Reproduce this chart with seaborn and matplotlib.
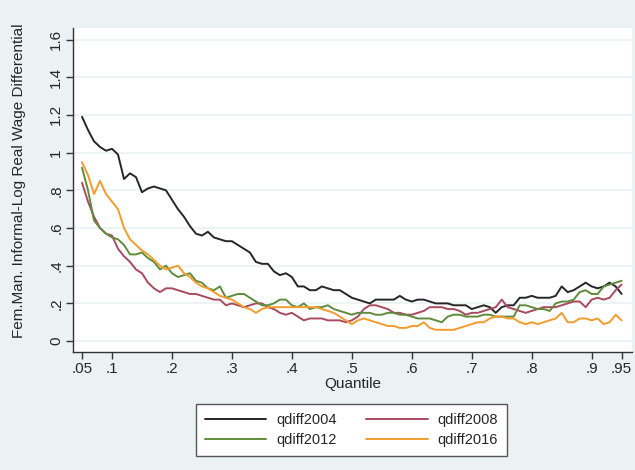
import matplotlib
matplotlib.use("Agg")
import matplotlib.pyplot as plt
import seaborn as sns
import numpy as np
import pandas as pd

# quantiles .05 .. .95 in steps of .01
quantiles = np.round(np.arange(0.05, 0.951, 0.01), 2)

qdiff2004 = [1.19, 1.12, 1.06, 1.03, 1.01, 1.02, 0.99, 0.86, 0.89, 0.87,
             0.79, 0.81, 0.82, 0.81, 0.80, 0.75, 0.70, 0.66, 0.61, 0.57,
             0.56, 0.58, 0.55, 0.54, 0.53, 0.53, 0.51, 0.49, 0.47, 0.42,
             0.41, 0.41, 0.37, 0.35, 0.36, 0.34, 0.29, 0.29, 0.27, 0.27,
             0.29, 0.28, 0.27, 0.27, 0.25, 0.23, 0.22, 0.21, 0.20, 0.22,
             0.22, 0.22, 0.22, 0.24, 0.22, 0.21, 0.22, 0.22, 0.21, 0.20,
             0.20, 0.20, 0.19, 0.19, 0.19, 0.17, 0.18, 0.19, 0.18, 0.15,
             0.18, 0.19, 0.19, 0.23, 0.23, 0.24, 0.23, 0.23, 0.23, 0.24,
             0.29, 0.26, 0.27, 0.29, 0.31, 0.29, 0.28, 0.29, 0.31, 0.29,
             0.25]

qdiff2008 = [0.84, 0.74, 0.66, 0.60, 0.57, 0.56, 0.49, 0.45, 0.42, 0.38,
             0.36, 0.31, 0.28, 0.26, 0.28, 0.28, 0.27, 0.26, 0.25, 0.25,
             0.24, 0.23, 0.22, 0.22, 0.19, 0.20, 0.19, 0.18, 0.19, 0.20,
             0.20, 0.18, 0.17, 0.15, 0.14, 0.15, 0.13, 0.11, 0.12, 0.12,
             0.12, 0.11, 0.11, 0.11, 0.10, 0.11, 0.13, 0.17, 0.19, 0.19,
             0.18, 0.17, 0.15, 0.15, 0.14, 0.14, 0.15, 0.16, 0.18, 0.18,
             0.18, 0.17, 0.17, 0.16, 0.14, 0.15, 0.15, 0.16, 0.17, 0.18,
             0.22, 0.18, 0.17, 0.16, 0.15, 0.16, 0.17, 0.18, 0.18, 0.18,
             0.19, 0.20, 0.21, 0.21, 0.18, 0.22, 0.23, 0.22, 0.23, 0.27,
             0.30]

qdiff2012 = [0.92, 0.80, 0.64, 0.60, 0.57, 0.55, 0.54, 0.51, 0.46, 0.46,
             0.47, 0.44, 0.42, 0.38, 0.40, 0.36, 0.34, 0.35, 0.36, 0.32,
             0.31, 0.28, 0.27, 0.29, 0.23, 0.24, 0.25, 0.25, 0.23, 0.21,
             0.19, 0.19, 0.20, 0.22, 0.22, 0.19, 0.18, 0.20, 0.17, 0.18,
             0.18, 0.19, 0.17, 0.16, 0.15, 0.14, 0.15, 0.15, 0.15, 0.14,
             0.14, 0.15, 0.15, 0.14, 0.14, 0.13, 0.12, 0.12, 0.12, 0.11,
             0.10, 0.13, 0.14, 0.14, 0.13, 0.13, 0.13, 0.14, 0.14, 0.13,
             0.13, 0.13, 0.13, 0.19, 0.19, 0.18, 0.17, 0.17, 0.16, 0.20,
             0.21, 0.21, 0.22, 0.26, 0.27, 0.25, 0.25, 0.29, 0.30, 0.31,
             0.32]

qdiff2016 = [0.95, 0.88, 0.78, 0.85, 0.78, 0.74, 0.70, 0.60, 0.54, 0.51,
             0.48, 0.46, 0.43, 0.40, 0.38, 0.39, 0.40, 0.36, 0.34, 0.31,
             0.29, 0.28, 0.26, 0.24, 0.23, 0.22, 0.20, 0.18, 0.17, 0.15,
             0.17, 0.18, 0.18, 0.18, 0.18, 0.18, 0.18, 0.18, 0.18, 0.18,
             0.17, 0.16, 0.15, 0.13, 0.11, 0.09, 0.11, 0.12, 0.11, 0.10,
             0.09, 0.08, 0.08, 0.07, 0.07, 0.08, 0.08, 0.10, 0.07, 0.06,
             0.06, 0.06, 0.06, 0.07, 0.08, 0.09, 0.10, 0.10, 0.12, 0.13,
             0.13, 0.12, 0.12, 0.10, 0.09, 0.10, 0.09, 0.10, 0.11, 0.12,
             0.15, 0.10, 0.10, 0.12, 0.12, 0.11, 0.12, 0.09, 0.10, 0.14,
             0.11]

series_names = ["qdiff2004", "qdiff2008", "qdiff2012", "qdiff2016"]
colors = ["#262626", "#a94a5e", "#5e8c3c", "#f39c2d"]

x_ticks = [0.05, 0.1, 0.2, 0.3, 0.4, 0.5, 0.6, 0.7, 0.8, 0.9, 0.95]
x_tick_labels = [".05", ".1", ".2", ".3", ".4", ".5", ".6", ".7", ".8", ".9", ".95"]
y_ticks = [0, 0.2, 0.4, 0.6, 0.8, 1.0, 1.2, 1.4, 1.6]
y_tick_labels = ["0", ".2", ".4", ".6", ".8", "1", "1.2", "1.4", "1.6"]

df = pd.DataFrame({
    "quantile": np.tile(quantiles, 4),
    "value": qdiff2004 + qdiff2008 + qdiff2012 + qdiff2016,
    "series": np.repeat(series_names, len(quantiles)),
})

sns.set_style("white")
plt.rcParams["font.family"] = ["Liberation Sans", "DejaVu Sans"]
bg = "#eaf2f3"

fig = plt.figure(figsize=(6.35, 4.70), dpi=100, facecolor=bg)
ax = fig.add_axes([0.115, 0.251, 0.880, 0.689])
ax.set_facecolor("white")

sns.lineplot(data=df, x="quantile", y="value", hue="series",
             palette=dict(zip(series_names, colors)), linewidth=1.4, ax=ax)

ax.set_xlim(0.035, 0.967)
ax.set_ylim(-0.058, 1.66)
ax.set_xticks(x_ticks)
ax.set_xticklabels(x_tick_labels, fontsize=11)
ax.set_yticks(y_ticks)
ax.set_yticklabels(y_tick_labels, fontsize=11, rotation=90, va="center")
ax.grid(axis="y", color=bg, linewidth=1.2)
ax.set_axisbelow(True)
for side in ["top", "right"]:
    ax.spines[side].set_visible(False)
for side in ["left", "bottom"]:
    ax.spines[side].set_color("#333333")
    ax.spines[side].set_linewidth(1.0)
ax.tick_params(axis="both", direction="out", length=5, width=1, color="#333333",
               bottom=True, left=True, pad=2)
ax.set_xlabel("Quantile", fontsize=11, labelpad=1)
ax.set_ylabel("Fem.Man. Informal-Log Real Wage Differential", fontsize=11)
ax.yaxis.set_label_coords(-0.085, 0.528)

# legend filled row by row, like the original
handles, labels = ax.get_legend_handles_labels()
order = [0, 2, 1, 3]
ax.legend([handles[i] for i in order], [labels[i] for i in order], ncol=2,
          loc="center", bbox_to_anchor=(0.554, 0.085),
          bbox_transform=fig.transFigure, frameon=True, fancybox=False,
          edgecolor="#555555", facecolor="white", fontsize=10.5,
          handlelength=4.2, columnspacing=2.0, handletextpad=0.7,
          borderpad=0.6, labelspacing=0.45, borderaxespad=0, framealpha=1)

fig.savefig("out.png", dpi=100, facecolor=bg)
